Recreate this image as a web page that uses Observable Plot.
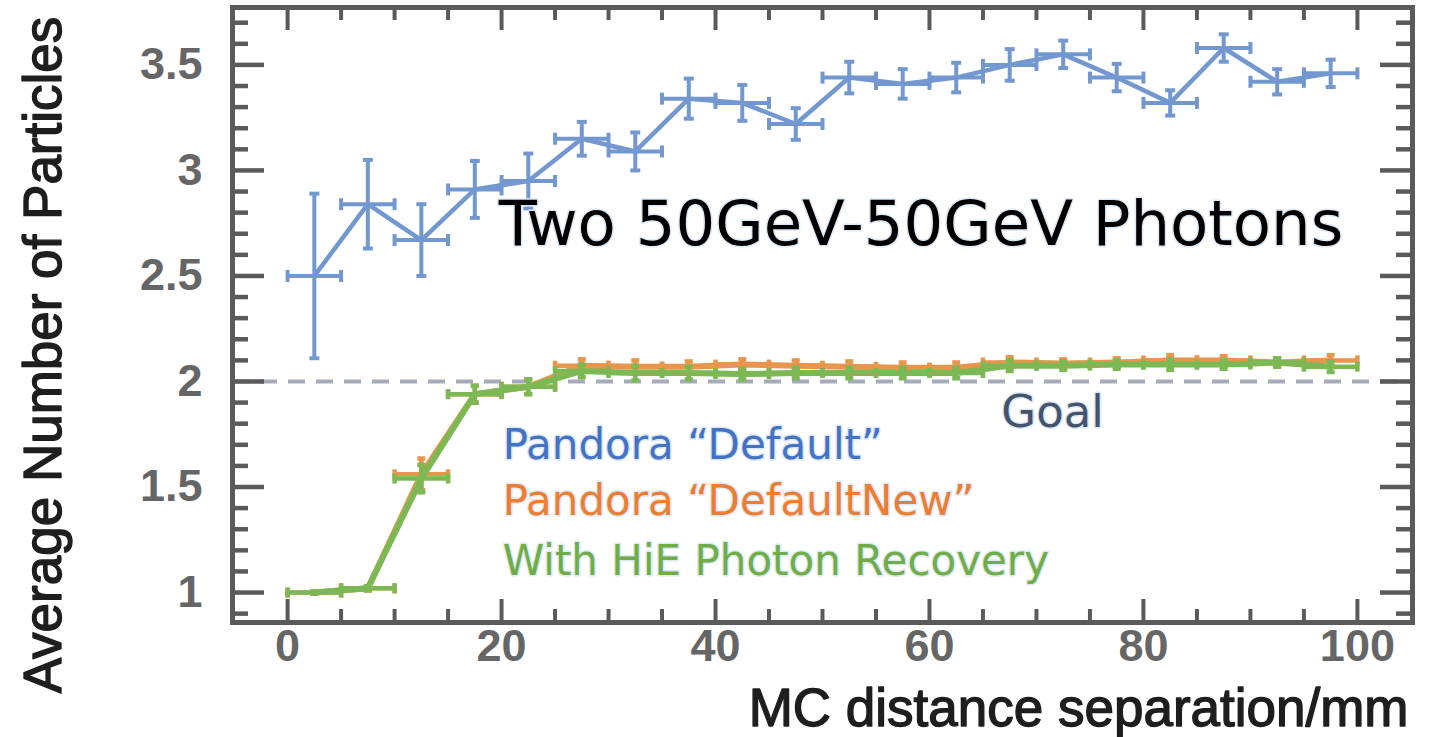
<!DOCTYPE html>
<html>
<head>
<meta charset="utf-8">
<script src="https://cdn.jsdelivr.net/npm/d3@7"></script>
<script src="https://cdn.jsdelivr.net/npm/@observablehq/plot@0.6"></script>
<style>
  html, body { margin: 0; padding: 0; background: #fff; }
  #chart svg { display: block; }
</style>
</head>
<body>
<div id="chart"></div>
<script>
// ---- data ----
const separation = [2.5, 7.5, 12.5, 17.5, 22.5, 27.5, 32.5, 37.5, 42.5, 47.5, 52.5, 57.5, 62.5, 67.5, 72.5, 77.5, 82.5, 87.5, 92.5, 97.5];
const binHalfWidth = 2.5;

const defaultY   = [2.50, 2.84, 2.67, 2.91, 2.95, 3.15, 3.09, 3.34, 3.32, 3.22, 3.44, 3.41, 3.44, 3.50, 3.55, 3.44, 3.32, 3.58, 3.42, 3.46];
const defaultErr = [0.39, 0.21, 0.17, 0.135, 0.13, 0.08, 0.09, 0.095, 0.085, 0.075, 0.075, 0.07, 0.07, 0.075, 0.065, 0.065, 0.06, 0.065, 0.06, 0.065];

const defaultNewY   = [1.00, 1.02, 1.56, 1.94, 1.975, 2.075, 2.07, 2.07, 2.08, 2.075, 2.07, 2.065, 2.065, 2.09, 2.085, 2.09, 2.10, 2.10, 2.09, 2.10];
const defaultNewErr = [0.005, 0.01, 0.075, 0.04, 0.035, 0.03, 0.03, 0.025, 0.025, 0.025, 0.025, 0.025, 0.025, 0.025, 0.02, 0.02, 0.025, 0.02, 0.02, 0.025];

const hieY   = [1.00, 1.02, 1.54, 1.94, 1.975, 2.05, 2.04, 2.04, 2.035, 2.04, 2.04, 2.04, 2.04, 2.075, 2.075, 2.08, 2.08, 2.08, 2.09, 2.07];
const hieErr = [0.005, 0.01, 0.065, 0.04, 0.035, 0.03, 0.035, 0.03, 0.025, 0.025, 0.025, 0.025, 0.025, 0.025, 0.02, 0.02, 0.025, 0.02, 0.02, 0.025];

const goal = 2;

const xMajorTicks = [0, 20, 40, 60, 80, 100];
const xMinorTicks = [5, 10, 15, 25, 30, 35, 45, 50, 55, 65, 70, 75, 85, 90, 95];
const yMajorTicks = [1, 1.5, 2, 2.5, 3, 3.5];
const yTickLabels = ["1", "1.5", "2", "2.5", "3", "3.5"];
const yMinorTicks = [0.9, 1.1, 1.2, 1.3, 1.4, 1.6, 1.7, 1.8, 1.9, 2.1, 2.2, 2.3, 2.4, 2.6, 2.7, 2.8, 2.9, 3.1, 3.2, 3.3, 3.4, 3.6, 3.7];

const titleText = "Two 50GeV-50GeV Photons";
const legendTexts = ["Pandora \u201cDefault\u201d", "Pandora \u201cDefaultNew\u201d", "With HiE Photon Recovery"];
const goalText = "Goal";
const xTitle = "MC distance separation/mm";
const yTitle = "Average Number of Particles";

// ---- styling ----
const W = 1432, H = 737;
const mL = 232, mR = 20, mT = 7, mB = 115;
const frameW = W - mL - mR, frameH = H - mT - mB;
const axisGray = "#5a5a5a";
const colBlue = "#7398d0", colOrange = "#e9954c", colGreen = "#7cb955";
const txtBlue = "#4472c4", txtOrange = "#ed7d31", txtGreen = "#70ad47", txtGoal = "#44546a";
const halo = "#deeaf7";

const rows = (ys, es) => separation.map((x, i) => ({x, y: ys[i], e: es[i]}));
const blue = rows(defaultY, defaultErr);
const orange = rows(defaultNewY, defaultNewErr);
const green = rows(hieY, hieErr);

// cap symbols (short line segments)
const capH = {draw(ctx, size) { const h = Math.sqrt(size / Math.PI); ctx.moveTo(-h, 0); ctx.lineTo(h, 0); }};
const capV = {draw(ctx, size) { const h = Math.sqrt(size / Math.PI); ctx.moveTo(0, -h); ctx.lineTo(0, h); }};

function series(data, color, lineW, barW, capR) {
  return [
    Plot.line(data, {x: "x", y: "y", stroke: color, strokeWidth: lineW}),
    Plot.ruleX(data, {x: "x", y1: d => d.y - d.e, y2: d => d.y + d.e, stroke: color, strokeWidth: barW}),
    Plot.ruleY(data, {y: "y", x1: d => d.x - binHalfWidth, x2: d => d.x + binHalfWidth, stroke: color, strokeWidth: barW}),
    Plot.dot(data, {x: "x", y: d => d.y + d.e, symbol: capH, r: capR, stroke: color, fill: "none", strokeWidth: barW}),
    Plot.dot(data, {x: "x", y: d => d.y - d.e, symbol: capH, r: capR, stroke: color, fill: "none", strokeWidth: barW}),
    Plot.dot(data, {x: d => d.x - binHalfWidth, y: "y", symbol: capV, r: capR + 1, stroke: color, fill: "none", strokeWidth: barW}),
    Plot.dot(data, {x: d => d.x + binHalfWidth, y: "y", symbol: capV, r: capR + 1, stroke: color, fill: "none", strokeWidth: barW})
  ];
}

const annoFont = "DejaVu Sans";

const chart = Plot.plot({
  width: W, height: H,
  marginLeft: mL, marginRight: mR, marginTop: mT, marginBottom: mB,
  x: {domain: [-5.15, 105.15]},
  y: {domain: [0.858, 3.772]},
  style: {background: "#fff", fontFamily: "Liberation Sans, Arial, sans-serif", overflow: "visible"},
  marks: [
    // goal line
    Plot.ruleY([goal], {stroke: "#a6abb9", strokeWidth: 4, strokeDasharray: "17 11"}),
    // series
    ...series(blue, colBlue, 4.5, 4, 5),
    ...series(orange, colOrange, 6, 4.5, 4),
    ...series(green, colGreen, 6, 4.5, 4),
    // inward ticks: left / right
    Plot.tickY(yMajorTicks, {y: d => d, insetRight: frameW - 32, stroke: axisGray, strokeWidth: 4.5}),
    Plot.tickY(yMinorTicks, {y: d => d, insetRight: frameW - 16, stroke: axisGray, strokeWidth: 4.5}),
    Plot.tickY(yMajorTicks, {y: d => d, insetLeft: frameW - 32, stroke: axisGray, strokeWidth: 4.5}),
    Plot.tickY(yMinorTicks, {y: d => d, insetLeft: frameW - 16, stroke: axisGray, strokeWidth: 4.5}),
    // inward ticks: bottom / top
    Plot.tickX(xMajorTicks, {x: d => d, insetTop: frameH - 23, stroke: axisGray, strokeWidth: 4}),
    Plot.tickX(xMinorTicks, {x: d => d, insetTop: frameH - 13, stroke: axisGray, strokeWidth: 4}),
    Plot.tickX(xMajorTicks, {x: d => d, insetBottom: frameH - 23, stroke: axisGray, strokeWidth: 4}),
    Plot.tickX(xMinorTicks, {x: d => d, insetBottom: frameH - 13, stroke: axisGray, strokeWidth: 4}),
    Plot.frame({stroke: axisGray, strokeWidth: 5}),
    // tick labels
    Plot.axisY(yMajorTicks, {anchor: "left", tickSize: 0, tickPadding: 30, fontSize: 45, fontWeight: "bold", color: "#666", label: null,
      tickFormat: d => yTickLabels[yMajorTicks.indexOf(d)]}),
    Plot.axisX(xMajorTicks, {anchor: "bottom", tickSize: 0, tickPadding: 7, fontSize: 45, fontWeight: "bold", color: "#666", label: null}),
    // axis titles
    Plot.text([yTitle], {frameAnchor: "left", rotate: -90, dx: -172, dy: 40, text: d => d, textAnchor: "middle", lineAnchor: "bottom", fontSize: 53, fill: "#1e1e1e", stroke: "#1e1e1e", strokeWidth: 1.4}),
    Plot.text([xTitle], {frameAnchor: "bottom-right", dx: -4, dy: 103, text: d => d, textAnchor: "end", lineAnchor: "bottom", fontSize: 53, fill: "#1e1e1e", stroke: "#1e1e1e", strokeWidth: 1.4}),
    // annotations
    Plot.text([titleText], {x: 59.2, y: 2.645, text: d => d, textAnchor: "middle", lineAnchor: "bottom", fontFamily: annoFont, fontSize: 62.5, fill: "#000", stroke: halo, strokeWidth: 3, paintOrder: "stroke"}),
    Plot.text([goalText], {x: 71.5, y: 1.782, text: d => d, textAnchor: "middle", lineAnchor: "bottom", fontFamily: annoFont, fontSize: 45, fill: txtGoal, stroke: halo, strokeWidth: 3, paintOrder: "stroke"}),
    Plot.text([legendTexts[0]], {x: 20.1, y: 1.635, text: d => d, textAnchor: "start", lineAnchor: "bottom", fontFamily: annoFont, fontSize: 42, fill: txtBlue, stroke: halo, strokeWidth: 3, paintOrder: "stroke"}),
    Plot.text([legendTexts[1]], {x: 20.1, y: 1.365, text: d => d, textAnchor: "start", lineAnchor: "bottom", fontFamily: annoFont, fontSize: 42, fill: txtOrange, stroke: halo, strokeWidth: 3, paintOrder: "stroke"}),
    Plot.text([legendTexts[2]], {x: 20.1, y: 1.081, text: d => d, textAnchor: "start", lineAnchor: "bottom", fontFamily: annoFont, fontSize: 42, fill: txtGreen, stroke: halo, strokeWidth: 3, paintOrder: "stroke"})
  ]
});

document.getElementById("chart").append(chart);
</script>
</body>
</html>
